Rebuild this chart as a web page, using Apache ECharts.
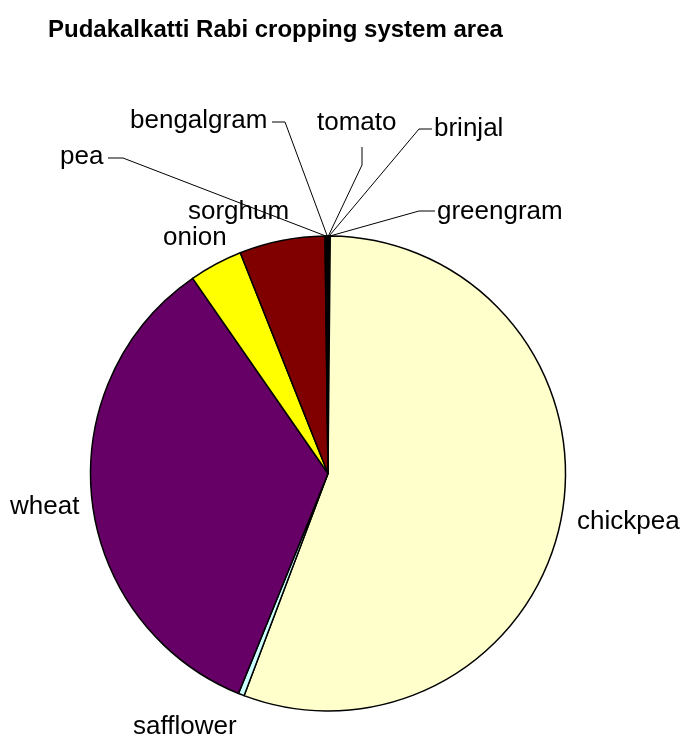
<!DOCTYPE html>
<html>
<head>
<meta charset="utf-8">
<style>
  html, body { margin: 0; padding: 0; background: #ffffff; }
  #chart { width: 690px; height: 742px; }
</style>
<script src="https://cdn.jsdelivr.net/npm/echarts@6/dist/echarts.min.js"></script>
</head>
<body>
<div id="chart"></div>
<script>
// Rabi season crop areas, Pudakalkatti (% of cropped area), clockwise from 12 o'clock
const crops = ['tomato', 'brinjal', 'greengram', 'chickpea', 'safflower', 'wheat', 'onion', 'sorghum', 'pea', 'bengalgram'];
const areaShare = [0.05, 0.05, 0.05, 55.6, 0.4, 34.2, 3.63, 5.82, 0.1, 0.1];
const sliceColors = ['#CCCCFF', '#9999FF', '#993366', '#FFFFCC', '#CCFFFF', '#660066', '#FFFF00', '#800000', '#D0D0D0', '#E0E0E0'];

// Label placement: text anchor (left, middle) and the elbow of the leader line
const labelPlacement = {
  chickpea:   { x: 577, y: 522 },
  wheat:      { x: 10,  y: 507 },
  safflower:  { x: 133, y: 727 },
  onion:      { x: 163, y: 238 },
  sorghum:    { x: 188, y: 212 },
  pea:        { x: 60,  y: 157, line: [[108, 158], [123, 158]] },
  bengalgram: { x: 130, y: 121, line: [[272, 122], [285, 122]] },
  tomato:     { x: 317, y: 123, line: [[362, 147], [362, 165]] },
  brinjal:    { x: 434, y: 129, line: [[432, 129], [419, 129]] },
  greengram:  { x: 437, y: 212, line: [[435, 211], [419, 211]] }
};

const chart = echarts.init(document.getElementById('chart'), null, { renderer: 'canvas' });

const seriesData = crops.map((name, i) => ({
  name: name,
  value: areaShare[i],
  itemStyle: { color: sliceColors[i] },
  labelLine: { show: !!labelPlacement[name].line }
}));

chart.setOption({
  animation: false,
  backgroundColor: '#ffffff',
  title: {
    text: 'Pudakalkatti Rabi cropping system area',
    left: 43,
    top: 13,
    textStyle: {
      fontFamily: 'Liberation Sans, Arial, sans-serif',
      fontWeight: 'bold',
      fontSize: 24,
      color: '#000000'
    }
  },
  series: [{
    type: 'pie',
    center: [328, 473.5],
    radius: [0, 237.5],
    startAngle: 90,
    clockwise: true,
    minAngle: 0,
    avoidLabelOverlap: false,
    data: seriesData,
    itemStyle: { borderColor: '#000000', borderWidth: 1.5 },
    label: {
      show: true,
      position: 'outside',
      formatter: '{b}',
      fontFamily: 'Liberation Sans, Arial, sans-serif',
      fontSize: 26,
      color: '#000000'
    },
    labelLine: {
      show: true,
      length: 10,
      length2: 10,
      lineStyle: { color: '#000000', width: 1 }
    },
    emphasis: { disabled: true },
    labelLayout: function (params) {
      const name = crops[params.dataIndex];
      const place = labelPlacement[name];
      const out = { x: place.x, y: place.y, align: 'left', verticalAlign: 'middle', hideOverlap: false };
      if (place.line && params.labelLinePoints) {
        const rim = params.labelLinePoints[0];
        out.labelLinePoints = [place.line[0], place.line[1], rim];
      }
      return out;
    }
  }]
});
</script>
</body>
</html>
